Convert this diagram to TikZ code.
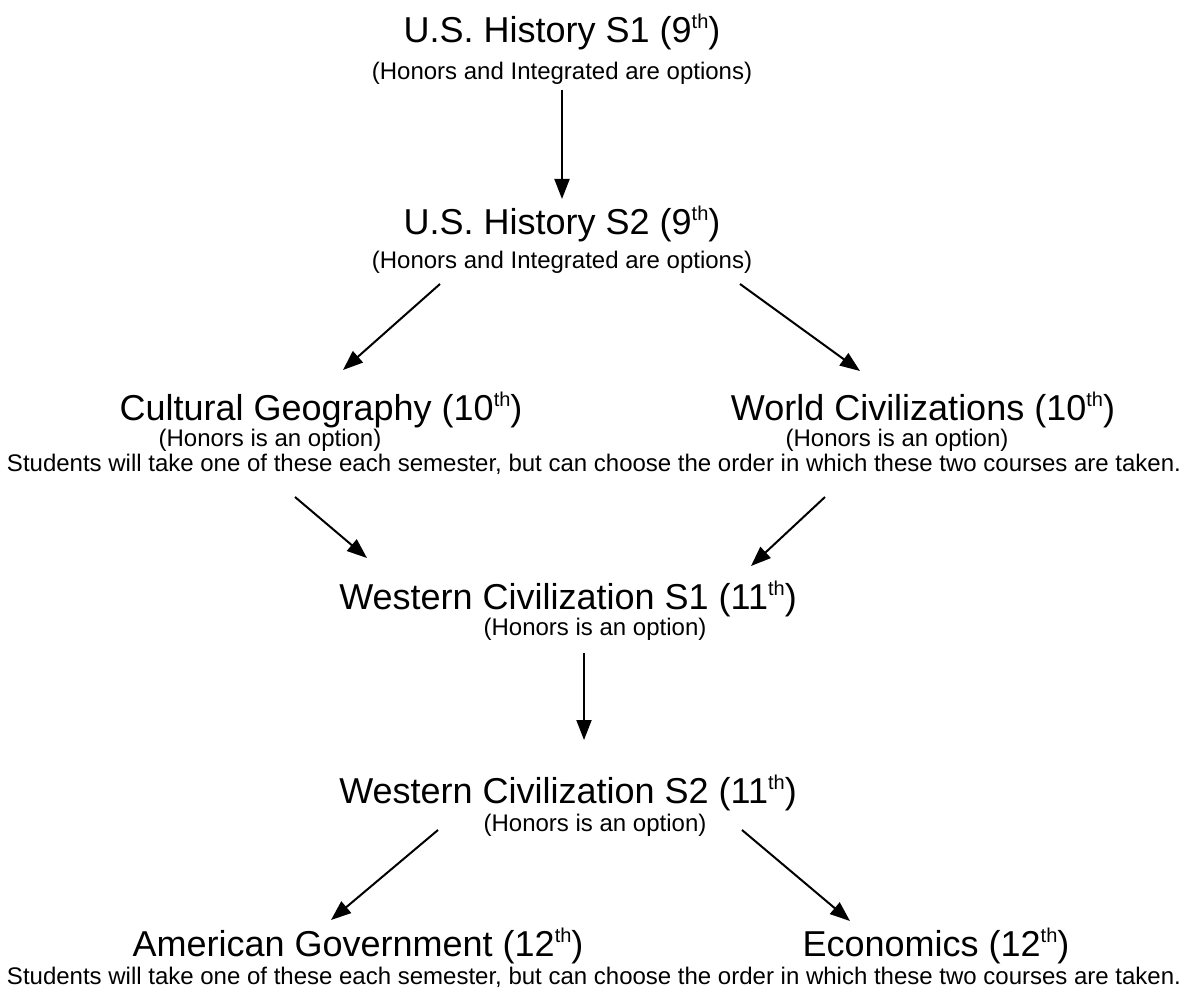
\documentclass[tikz,border=0pt]{standalone}
\usepackage{fontspec}
\setmainfont{Liberation Sans}
\usetikzlibrary{arrows.meta}
\newcommand{\ordsup}[1]{\raisebox{7pt}{\fontsize{10pt}{12pt}\selectfont #1}}
\tikzset{
  big/.style={font=\fontsize{18pt}{21pt}\selectfont, anchor=base, inner sep=0pt},
  small/.style={font=\fontsize{12pt}{14pt}\selectfont, anchor=base, inner sep=0pt},
  arr/.style={line width=1pt, -{Triangle[length=10pt,width=7.5pt]}}
}
\begin{document}
\begin{tikzpicture}[x=0.5pt,y=-0.5pt]
\useasboundingbox (0,0) rectangle (1188,994);
% texts
\node[big]   (t1)  at (562,43)  {U.S. History S1 (9\ordsup{th})};
\node[small] (s1)  at (562,80)  {(Honors and Integrated are options)};
\node[big]   (t2)  at (562,235) {U.S. History S2 (9\ordsup{th})};
\node[small] (s2)  at (562,269) {(Honors and Integrated are options)};
\node[big]   (cg)  at (321,421) {Cultural Geography (10\ordsup{th})};
\node[small] (cgs) at (270,446) {(Honors is an option)};
\node[big]   (wc)  at (923,421) {World Civilizations (10\ordsup{th})};
\node[small] (wcs) at (897,446) {(Honors is an option)};
\node[small] (n1)  at (594,471) {Students will take one of these each semester, but can choose the order in which these two courses are taken.};
\node[big]   (w1)  at (568,609) {Western Civilization S1 (11\ordsup{th})};
\node[small] (w1s) at (595,635) {(Honors is an option)};
\node[big]   (w2)  at (568,803) {Western Civilization S2 (11\ordsup{th})};
\node[small] (w2s) at (595,831) {(Honors is an option)};
\node[big]   (ag)  at (358,956) {American Government (12\ordsup{th})};
\node[big]   (ec)  at (936,956) {Economics (12\ordsup{th})};
\node[small] (n2)  at (594,984) {Students will take one of these each semester, but can choose the order in which these two courses are taken.};
% arrow end points
\coordinate (a1s) at (562,90);  \coordinate (a1e) at (562,199);
\coordinate (a2s) at (440,284); \coordinate (a2e) at (343,370);
\coordinate (a3s) at (740,284); \coordinate (a3e) at (860,371);
\coordinate (a4s) at (295,497); \coordinate (a4e) at (367,558);
\coordinate (a5s) at (825,497); \coordinate (a5e) at (751,566);
\coordinate (a6s) at (584,653); \coordinate (a6e) at (584,740);
\coordinate (a7s) at (438,830); \coordinate (a7e) at (331,920);
\coordinate (a8s) at (742,830); \coordinate (a8e) at (850,921);
\draw[arr] (a1s) -- (a1e);
\draw[arr] (a2s) -- (a2e);
\draw[arr] (a3s) -- (a3e);
\draw[arr] (a4s) -- (a4e);
\draw[arr] (a5s) -- (a5e);
\draw[arr] (a6s) -- (a6e);
\draw[arr] (a7s) -- (a7e);
\draw[arr] (a8s) -- (a8e);
\end{tikzpicture}
\end{document}
